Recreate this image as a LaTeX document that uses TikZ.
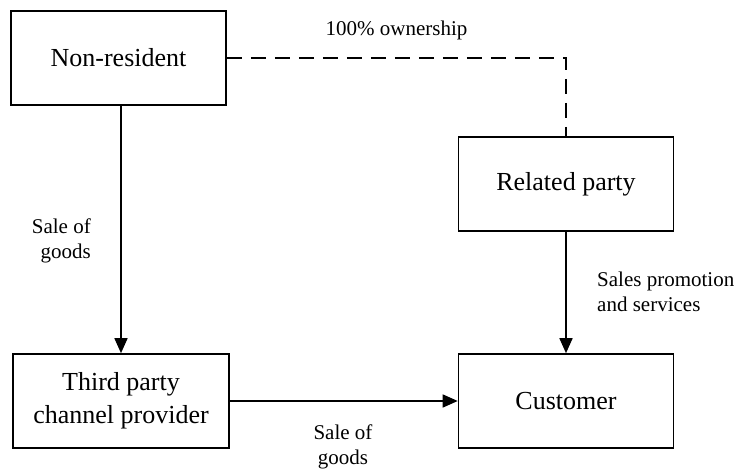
\documentclass[tikz,border=0pt]{standalone}
\usepackage{fontspec}
\setmainfont{Liberation Serif}
\usetikzlibrary{arrows.meta}
\begin{document}
\begin{tikzpicture}[x=1pt,y=-1pt,
  boxnode/.style={draw, line width=1.6pt, minimum width=215pt, minimum height=94pt, inner sep=0pt, align=center, font=\fontsize{26}{33}\selectfont},
  lbl/.style={inner sep=0pt, font=\fontsize{21}{25}\selectfont},
  conn/.style={line width=1.6pt, -{Triangle[length=15pt,width=13pt]}},
  dashconn/.style={line width=1.6pt, dash pattern=on 15pt off 9pt}]
\useasboundingbox (0,0) rectangle (737,470);
\node[boxnode] (nr) at (118.5,58) {Non-resident};
\node[boxnode] (rp) at (566,184) {Related party};
\node[boxnode, minimum width=216pt] (tp) at (121,401) {Third party\\channel provider};
\node[boxnode] (cu) at (566,401) {Customer};
\draw[dashconn] (nr.east) -| (rp.north);
\draw[conn] (tp.north |- nr.south) -- (tp.north);
\draw[conn] (rp.south) -- (cu.north);
\draw[conn] (tp.east) -- (cu.west);
\node[lbl] (l1) at (396.5,30) {100\% ownership};
\node[lbl, align=right, anchor=east] (l2) at (91,241) {Sale of\\goods};
\node[lbl, align=left, anchor=west] (l3) at (597,292) {Sales promotion\\and services};
\node[lbl, align=center] (l4) at (343,447) {Sale of\\goods};
\end{tikzpicture}
\end{document}
